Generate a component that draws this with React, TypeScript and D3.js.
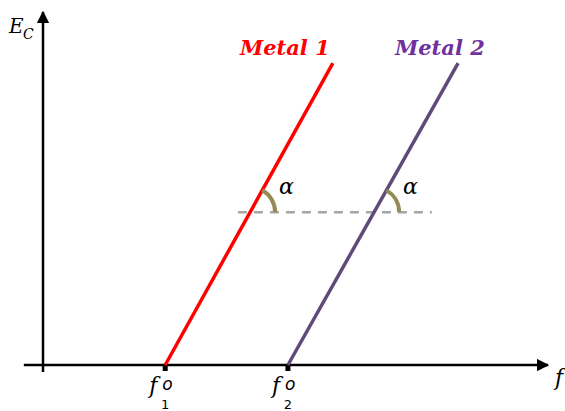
import React from "react";
import * as d3 from "d3";

// Concentration polarisation lines for two metals: E_C versus f
const metalNames = ["Metal 1", "Metal 2"];
const metalF0 = [2.42, 4.85]; // intercept f_o on the f axis
const metalFTop = [5.74, 8.22]; // f at the upper end of each line
const labelF = [3.9, 6.97]; // f where each metal's label starts
const lineTopE = 8.55;
const labelE = 8.78;
const dashE = 4.33;
const dashRange = [3.86, 7.7];
const lineColors = ["#ff0000", "#604a7b"];
const labelColors = ["#ff0000", "#7030a0"];
const subLabels = ["1", "2"];

const W = 565;
const H = 411;

export default function App() {
  const x = d3.scaleLinear().domain([0, 10]).range([43, 548]);
  const y = d3.scaleLinear().domain([0, 10]).range([365, 12]);
  const line = d3
    .line<[number, number]>()
    .x((d) => x(d[0]))
    .y((d) => y(d[1]));

  const arcR = 25;

  return (
    <svg
      width={W}
      height={H}
      style={{ position: "absolute", left: 0, top: 0, background: "#fff" }}
    >
      <defs>
        <marker
          id="arrow"
          viewBox="0 0 10 10"
          refX="9"
          refY="5"
          markerWidth="5"
          markerHeight="5"
          orient="auto"
          markerUnits="strokeWidth"
        >
          <path d="M0,0 L10,5 L0,10 z" fill="#000" />
        </marker>
      </defs>

      {/* axes */}
      <line
        x1={x(0)}
        y1={y(-0.2)}
        x2={x(0)}
        y2={y(10)}
        stroke="#000"
        strokeWidth={2.5}
        markerEnd="url(#arrow)"
      />
      <line
        x1={x(-0.38)}
        y1={y(0)}
        x2={x(10)}
        y2={y(0)}
        stroke="#000"
        strokeWidth={2.5}
        markerEnd="url(#arrow)"
      />

      {/* dashed reference level */}
      <line
        x1={x(dashRange[0])}
        y1={y(dashE)}
        x2={x(dashRange[1])}
        y2={y(dashE)}
        stroke="#a6a6a6"
        strokeWidth={2.5}
        strokeDasharray="9 7"
      />

      {metalNames.map((name, i) => {
        const p0: [number, number] = [metalF0[i], 0];
        const p1: [number, number] = [metalFTop[i], lineTopE];
        // intersection with the dashed level
        const t = dashE / lineTopE;
        const fx = metalF0[i] + (metalFTop[i] - metalF0[i]) * t;
        const cx = x(fx);
        const cy = y(dashE);
        const ang = Math.atan2(y(p0[1]) - y(p1[1]), x(p1[0]) - x(p0[0]));
        const ax = cx + arcR * Math.cos(ang);
        const ay = cy - arcR * Math.sin(ang);
        const arcPath = `M${cx + arcR},${cy} A${arcR},${arcR} 0 0 0 ${ax},${ay}`;
        return (
          <g key={name}>
            <path
              d={line([p0, p1]) ?? ""}
              stroke={lineColors[i]}
              strokeWidth={3.5}
              fill="none"
            />
            <path d={arcPath} stroke="#948a54" strokeWidth={4} fill="none" />
            <text
              x={cx + arcR + 4}
              y={cy - 18}
              fontFamily="'DejaVu Serif', serif"
              fontStyle="italic"
              fontSize={22}
              fill="#000"
            >
              α
            </text>
            <text
              x={x(labelF[i])}
              y={y(labelE)}
              fontFamily="'DejaVu Serif', serif"
              fontStyle="italic"
              fontWeight="bold"
              fontSize={21}
              fill={labelColors[i]}
            >
              {name}
            </text>
            {/* tick at f_o */}
            <rect
              x={x(metalF0[i]) - 2.5}
              y={y(0) + 1}
              width={5}
              height={5}
              fill="#000"
            />
            <text
              x={x(metalF0[i]) - 16}
              y={y(0) + 28}
              fontFamily="'DejaVu Serif', serif"
              fontStyle="italic"
              fontSize={22}
              fill="#000"
            >
              f
            </text>
            <text
              x={x(metalF0[i]) - 3}
              y={y(0) + 25}
              fontFamily="'DejaVu Sans', sans-serif"
              fontStyle="italic"
              fontSize={17}
              fill="#000"
            >
              o
            </text>
            <text
              x={x(metalF0[i])}
              y={y(0) + 44}
              textAnchor="middle"
              fontFamily="'DejaVu Sans', sans-serif"
              fontSize={13}
              fill="#000"
            >
              {subLabels[i]}
            </text>
          </g>
        );
      })}

      {/* axis titles */}
      <text
        x={9}
        y={33}
        fontFamily="'DejaVu Serif', serif"
        fontStyle="italic"
        fontSize={20}
        fill="#000"
      >
        E
      </text>
      <text
        x={23}
        y={39}
        fontFamily="'DejaVu Serif', serif"
        fontStyle="italic"
        fontSize={14}
        fill="#000"
      >
        C
      </text>
      <text
        x={555}
        y={385}
        fontFamily="'DejaVu Serif', serif"
        fontStyle="italic"
        fontSize={22}
        fill="#000"
      >
        f
      </text>
    </svg>
  );
}
